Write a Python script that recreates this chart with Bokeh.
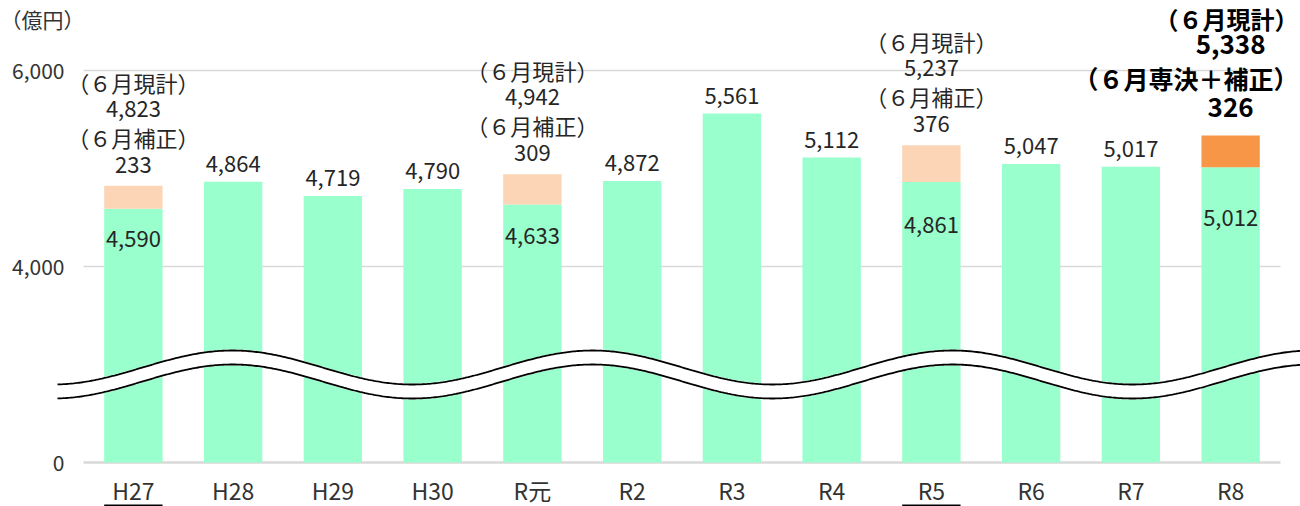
import numpy as np
from bokeh.plotting import figure
from bokeh.models import Range1d, FixedTicker
from bokeh.core.properties import value
from bokeh.embed import file_html
from bokeh.resources import INLINE

# ---------------- data ----------------
years = ["H27", "H28", "H29", "H30", "R元", "R2", "R3", "R4", "R5", "R6", "R7", "R8"]
base = [4590, 4864, 4719, 4790, 4633, 4872, 5561, 5112, 4861, 5047, 5017, 5012]
hosei = [233, 0, 0, 0, 309, 0, 0, 0, 376, 0, 0, 326]
hosei_caption = ["（６月補正）", "", "", "", "（６月補正）", "", "", "",
                 "（６月補正）", "", "", "（６月専決＋補正）"]
total_caption = "（６月現計）"
underlined = ["H27", "R5"]
y_tick_values = [0, 4000, 6000]
unit_label = "（億円）"
axis_break = 4000

# ---------------- style / geometry ----------------
FONT = "Noto Sans CJK JP"
GREEN = "#99FFCC"
PEACH = "#FBD5B5"
ORANGE = "#F79646"
GRID = "#D9D9D9"
TXT = "#262626"

W, H = 1300, 506
CAT_PX = 99.75        # px per category
FIRST_CAT_PX = 83     # px from left edge to start of first category
BASE_PX = 44          # baseline px above bottom edge
K = 0.098             # px per display unit (vertical)
BAR_W = 0.585


def disp(v):
    v = np.asarray(v, dtype=float)
    return np.where(v < axis_break, v / 2.0, v - axis_break / 2.0)


def py(n):
    """vertical pixels -> display units"""
    return n / K


def pxc(n):
    """horizontal pixels -> category units"""
    return n / CAT_PX


x_start = -pxc(FIRST_CAT_PX)
x_end = x_start + pxc(W)
y_start = -py(BASE_PX)
y_end = y_start + py(H)

p = figure(width=W, height=H,
           x_range=Range1d(x_start, x_end), y_range=Range1d(y_start, y_end),
           output_backend="svg", toolbar_location=None,
           min_border_left=0, min_border_right=0,
           min_border_top=0, min_border_bottom=0)
p.outline_line_color = None
p.grid.visible = False
p.background_fill_color = "white"
p.border_fill_color = "white"

n = len(years)
xc = np.arange(n) + 0.5
b = np.array(base, dtype=float)
h = np.array(hosei, dtype=float)
d_base = disp(b)
d_top = disp(b + h)
stacked = h > 0
hi = np.zeros(n, dtype=bool)
hi[-1] = True  # latest year emphasised

# gridlines and baseline
grid_d = disp(y_tick_values[1:])
p.segment(x0=[0] * len(grid_d), x1=[n] * len(grid_d), y0=grid_d, y1=grid_d,
          line_color=GRID, line_width=1.6)
p.segment(x0=[0], x1=[n], y0=[0], y1=[0], line_color=GRID, line_width=2.6)

# bars
p.vbar(x=xc, width=BAR_W, bottom=0, top=d_base, fill_color=GREEN, line_color=None)
sx = xc[stacked]
p.vbar(x=sx, width=BAR_W, bottom=d_base[stacked], top=d_top[stacked],
       fill_color=[ORANGE if e else PEACH for e in hi[stacked]], line_color=None)

# axis-break wave (decoration)
WAVE_MID, WAVE_AMP, WAVE_GAP = 95, 17, 14          # px
WAVE_PERIOD = pxc(360)                             # categories
WAVE_PEAK = pxc(149)
wx = np.linspace(-pxc(26), x_end, 700)
w_top = py(WAVE_MID + WAVE_AMP * np.cos(2 * np.pi * (wx - WAVE_PEAK) / WAVE_PERIOD))
w_bot = w_top - py(WAVE_GAP)
p.patch(np.concatenate([wx, wx[::-1]]), np.concatenate([w_top + py(1), w_bot[::-1] - py(1)]),
        fill_color="white", line_color=None)
p.line(wx, w_top, line_color="black", line_width=1.8)
p.line(wx, w_bot, line_color="black", line_width=1.8)


def fmt(v):
    return f"{int(v):,}"


def put(xs, ys, texts, size=22, bold=False, color=TXT, align="center"):
    p.text(x=list(xs), y=list(ys), text=list(texts),
           text_font=value(FONT), text_font_size=f"{size}px",
           text_font_style="bold" if bold else "normal",
           text_color=color, text_align=align, text_baseline="middle")


def fit_x(xs, texts, size):
    """keep full-width captions inside the right edge"""
    lim = x_end - pxc(2)
    return [min(x, lim - pxc(size * len(t)) / 2) for x, t in zip(xs, texts)]


# simple labels
m = ~stacked
put(xc[m], d_top[m] + py(18), [fmt(v) for v in b[m]])

# inner labels of stacked bars
mid_d = (disp(axis_break) + d_base[stacked]) / 2 - py(1)
put(xc[stacked], mid_d, [fmt(v) for v in b[stacked]])

# stacked labels (normal)
mn = stacked & ~hi
caps = [hosei_caption[i] for i in range(n) if mn[i]]
put(xc[mn], d_top[mn] + py(21), [fmt(v) for v in h[mn]])
put(xc[mn], d_top[mn] + py(49), caps)
put(xc[mn], d_top[mn] + py(77), [fmt(v) for v in (b + h)[mn]])
put(xc[mn], d_top[mn] + py(104), [total_caption] * int(mn.sum()))

# stacked labels (emphasised, latest year)
mh = stacked & hi
caps = [hosei_caption[i] for i in range(n) if mh[i]]
tcaps = [total_caption] * int(mh.sum())
put(xc[mh], d_top[mh] + py(28), [fmt(v) for v in h[mh]], size=26, bold=True, color="black")
put(fit_x(xc[mh], caps, 25), d_top[mh] + py(57), caps, size=25, bold=True, color="black")
put(xc[mh], d_top[mh] + py(91), [fmt(v) for v in (b + h)[mh]], size=26, bold=True, color="black")
put(fit_x(xc[mh], tcaps, 24), d_top[mh] + py(117), tcaps, size=24, bold=True, color="black")

# unit label
put([x_start], [py(444)], [unit_label], size=21, color="#333333", align="left")

# underlines of highlighted years
ui = [years.index(yr) for yr in underlined]
p.segment(x0=[xc[i] - BAR_W / 2 for i in ui], x1=[xc[i] + BAR_W / 2 for i in ui],
          y0=[-py(43)] * len(ui), y1=[-py(43)] * len(ui),
          line_color="black", line_width=2)

# axes (drawn inside the frame at fixed locations)
p.yaxis.fixed_location = -pxc(16)
p.xaxis.fixed_location = 0
p.yaxis.ticker = FixedTicker(ticks=[float(v) for v in disp(y_tick_values)], minor_ticks=[])
p.yaxis.major_label_overrides = {float(disp(v)): f"{v:,}" for v in y_tick_values}
p.xaxis.ticker = FixedTicker(ticks=[float(v) for v in xc], minor_ticks=[])
p.xaxis.major_label_overrides = {float(xc[i]): years[i] for i in range(n)}
for ax in (p.xaxis[0], p.yaxis[0]):
    ax.axis_line_color = None
    ax.major_tick_line_color = None
    ax.minor_tick_line_color = None
    ax.major_tick_out = 0
    ax.major_tick_in = 0
    ax.minor_tick_out = 0
    ax.minor_tick_in = 0
    ax.major_label_text_font = FONT
    ax.major_label_text_color = "#333333"
p.yaxis.major_label_text_font_size = "21px"
p.yaxis.major_label_standoff = 3
p.xaxis.major_label_text_font_size = "23px"
p.xaxis.major_label_standoff = 10

open("out.html", "w").write(file_html(p, INLINE))
